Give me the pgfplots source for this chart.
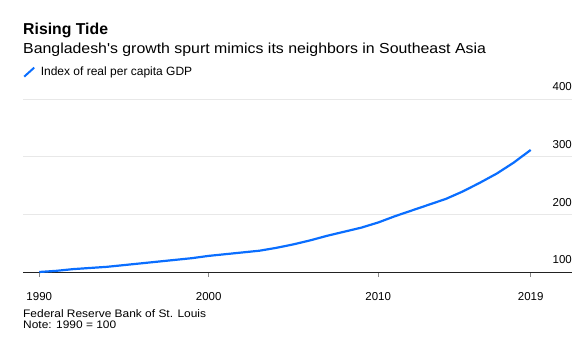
\documentclass[border=0pt]{standalone}
\usepackage{pgfplots}
\pgfplotsset{compat=1.18}
\usepackage{fontspec}
\setmainfont{Liberation Sans}
\newfontfamily\subfont{Liberation Sans}[FakeStretch=1.095]
\definecolor{lineblue}{HTML}{0A6EFF}
\definecolor{gridgray}{HTML}{E8E8E8}
\definecolor{axisdark}{HTML}{222222}
\definecolor{tickgray}{HTML}{888888}
\pgfplotstableread{
year value
1990 100
1991 102
1992 105
1993 107
1994 109
1995 112
1996 115
1997 118
1998 121
1999 124
2000 128
2001 131
2002 134
2003 137
2004 142
2005 148
2006 155
2007 163
2008 170
2009 177
2010 186
2011 197
2012 207
2013 217
2014 227
2015 240
2016 255
2017 271
2018 290
2019 312
}\gdp
\begin{document}
\begin{tikzpicture}[x=1pt,y=1pt]
\useasboundingbox (0,0) rectangle (580,342);
\node[anchor=base west, inner sep=0pt, font=\fontsize{15.8}{18}\selectfont\bfseries] at (23,307) {Rising Tide};
\node[anchor=base west, inner sep=0pt, font=\subfont\fontsize{14.5}{17}\selectfont] at (23,288) {Bangladesh's growth spurt mimics its neighbors in Southeast Asia};
\node[anchor=base west, inner sep=0pt, font=\subfont\fontsize{10.9}{13}\selectfont] at (23,24.7) {Federal Reserve Bank of St. Louis};
\node[anchor=base west, inner sep=0pt, font=\subfont\fontsize{10.9}{13}\selectfont] at (23,13.7) {Note: 1990 = 100};
\begin{axis}[
  at={(23pt,70pt)}, anchor=south west,
  scale only axis, width=549pt, height=172.7pt,
  xmin=1989.04, xmax=2021.44, ymin=100, ymax=400,
  axis x line=bottom, axis y line=right,
  x axis line style={draw=axisdark, line width=0.9pt, -},
  y axis line style={draw=none},
  xtick={1990,2000,2010,2019},
  xticklabels={1990,2000,2010,2019},
  ytick={100,200,300,400},
  ymajorgrids, grid style={draw=gridgray, line width=0.8pt},
  xtick style={draw=tickgray, line width=0.8pt},
  ytick style={draw=none},
  tick align=outside, major tick length=5pt,
  /pgf/number format/assume math mode=true,
  /pgf/number format/1000 sep={},
  xticklabel style={font=\fontsize{11.5}{13}\selectfont, anchor=north, inner sep=0pt, yshift=-15.7pt},
  yticklabel style={font=\fontsize{11.5}{13}\selectfont, anchor=south east, inner sep=0pt, xshift=-5pt, yshift=8pt},
  legend style={draw=none, fill=none, at={(axis description cs:0,1.115)}, anchor=south west, inner sep=0pt, font=\fontsize{12}{14}\selectfont, legend cell align=left},
  legend image code/.code={\draw[#1, line width=2pt] (0pt,-4.5pt) -- (10pt,4.5pt); \path (13.5pt,0pt);},
  clip=false,
]
\addplot[lineblue, line width=2.2pt, line join=round] table[x=year,y=value]{\gdp};
\addlegendentry{Index of real per capita GDP}
\end{axis}
\end{tikzpicture}
\end{document}
